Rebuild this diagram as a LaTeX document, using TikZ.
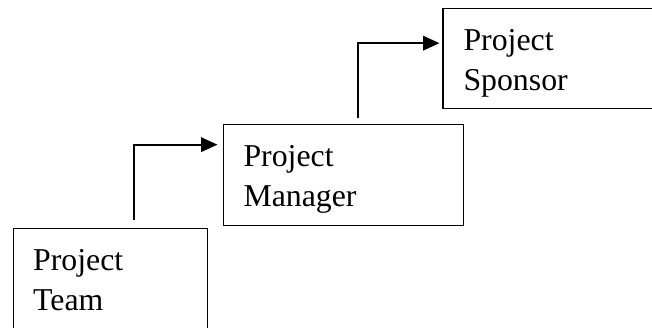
\documentclass[tikz,border=0pt]{standalone}
\usepackage{fontspec}
\setmainfont{Liberation Serif}
\usetikzlibrary{arrows.meta}

\tikzset{
  rolebox/.style={draw=black, line width=1.3pt, rectangle, inner sep=0pt,
    anchor=north west},
  rolename/.style={anchor=base west, inner sep=0pt,
    font=\fontsize{31.8pt}{40pt}\selectfont},
  upflow/.style={draw=black, line width=2pt,
    -{Triangle[length=16.5pt, width=14.5pt]}}
}

% two-line caption whose baseline is that of its first line
\newcommand{\twolines}[2]{\vtop{\baselineskip=40pt\hbox{#1}\hbox{#2}}}

\begin{document}
\begin{tikzpicture}[x=1pt, y=-1pt]
  \useasboundingbox (0,0) rectangle (652,327);
  \clip (0,0) rectangle (652,327);

  % the three levels of the hierarchy, stepping up to the right
  \node[rolebox, minimum width=194.5pt, minimum height=160pt] (team) at (12.5,227.5) {};
  \node[rolebox, minimum width=240.2pt, minimum height=100.5pt] (mgr) at (222.5,124) {};
  \node[rolebox, minimum width=320pt, minimum height=100.5pt] (spon) at (442.3,7.5) {};

  \node[rolename] (teamtext) at ([xshift=20.5pt, yshift=-42.5pt]team.north west)
    {\twolines{Project}{Team}};
  \node[rolename] (mgrtext) at ([xshift=20.8pt, yshift=-42.7pt]mgr.north west)
    {\twolines{Project}{Manager}};
  \node[rolename] (spontext) at ([xshift=21pt, yshift=-42.5pt]spon.north west)
    {\twolines{Project}{Sponsor}};

  % escalation arrows
  \draw[upflow] ([xshift=121.5pt, yshift=7.5pt]team.north west)
    |- ([xshift=-5pt, yshift=30.25pt]mgr.west);
  \draw[upflow] ([xshift=135.5pt, yshift=6.3pt]mgr.north west)
    |- ([xshift=-2.8pt, yshift=15.25pt]spon.west);
\end{tikzpicture}
\end{document}
